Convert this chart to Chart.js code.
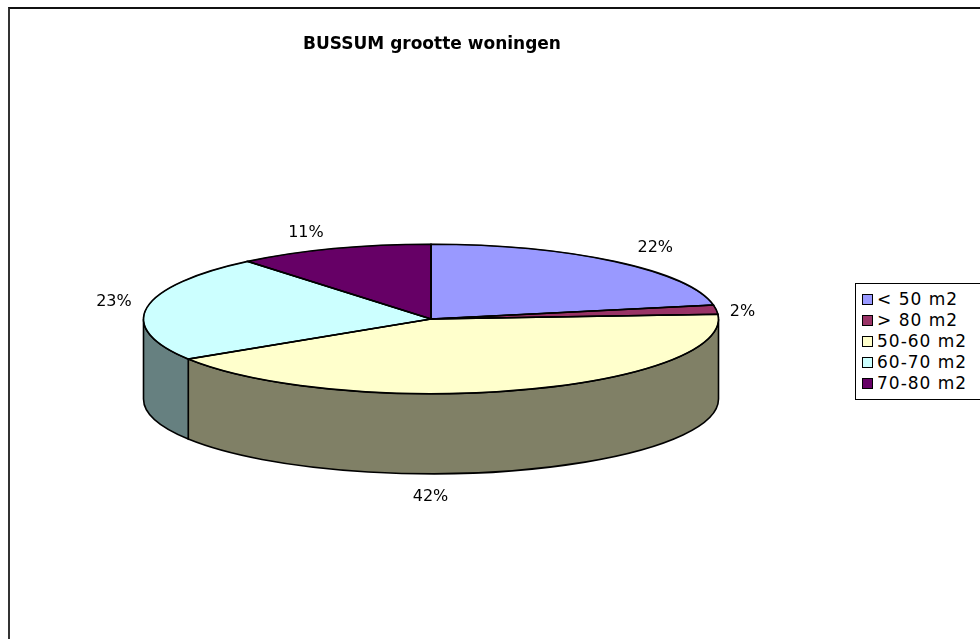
<!DOCTYPE html>
<html>
<head>
<meta charset="utf-8">
<script src="https://cdn.jsdelivr.net/npm/chart.js@4.4.0/dist/chart.umd.min.js"></script>
<style>
    html, body { margin: 0; padding: 0; background: #fff; }
    body { width: 980px; height: 639px; position: relative; overflow: hidden; font-family: "DejaVu Sans", Verdana, sans-serif; }
    #frame { position: absolute; left: 8px; top: 7px; width: 1000px; height: 700px; border-top: 2px solid #111; border-left: 2px solid #333; }
    #chartTitle { position: absolute; left: 0; width: 864px; top: 33px; text-align: center; font-weight: bold; font-size: 17px; color: #000; }
    #legend { position: absolute; left: 855px; top: 283px; width: 140px; border: 1px solid #000; background: #fff; padding: 5px 0 5px 6px; }
    .item { height: 21px; line-height: 21px; font-size: 17px; letter-spacing: 1px; white-space: nowrap; color: #000; }
    .swatch { display: inline-block; width: 9px; height: 9px; border: 1px solid #000; margin-right: 4px; vertical-align: 0px; }
    canvas { position: absolute; left: 0; top: 0; }
</style>
</head>
<body>
<div id="frame"></div>
<canvas id="pieChart" width="980" height="639"></canvas>
<div id="chartTitle">BUSSUM grootte woningen</div>
<div id="legend"></div>

<script>
// Data
const categories = ['< 50 m2', '> 80 m2', '50-60 m2', '60-70 m2', '70-80 m2'];
const shares = [22, 2, 42, 23, 11];
const percentLabels = ['22%', '2%', '42%', '23%', '11%'];

// Colours (top face and darker side wall)
const topColors = ['#9999FF', '#993366', '#FFFFCC', '#CCFFFF', '#660066'];
const sideColors = ['#4D4D80', '#4D1A33', '#808066', '#668080', '#330033'];

// 3D look
const tilt = 0.26;
const depth = 80;
const labelReach = 1.12;
const labelNudge = [[19, -7], [-8, 3], [-100, 18], [1, -4], [-16, -7]];

// Fake 3D pie: sides first, then squash the top face
const pie3d = {
    id: 'pie3d',
    beforeDatasetsDraw(chart) {
        const ctx = chart.ctx;
        const arcs = chart.getDatasetMeta(0).data;
        const { x, y, outerRadius: r } = arcs[0];
        const ry = r * tilt;

        ctx.save();
        ctx.lineWidth = 1.6;
        ctx.strokeStyle = '#000';
        arcs.forEach((arc, i) => {
            const s = Math.max(arc.startAngle, 0);
            const e = Math.min(arc.endAngle, Math.PI);
            if (s >= e) return;
            ctx.beginPath();
            ctx.ellipse(x, y, r, ry, 0, s, e);
            ctx.ellipse(x, y + depth, r, ry, 0, e, s, true);
            ctx.closePath();
            ctx.fillStyle = sideColors[i];
            ctx.fill();
            ctx.stroke();
        });
        ctx.restore();

        ctx.save();
        ctx.translate(x, y);
        ctx.scale(1, tilt);
        ctx.translate(-x, -y);
    },
    afterDatasetsDraw(chart) {
        const ctx = chart.ctx;
        ctx.restore();

        const arcs = chart.getDatasetMeta(0).data;
        const { x, y, outerRadius: r } = arcs[0];
        const ry = r * tilt;

        // crisp outlines on the top face
        ctx.save();
        ctx.lineWidth = 1.6;
        ctx.strokeStyle = '#000';
        arcs.forEach(arc => {
            ctx.beginPath();
            ctx.moveTo(x, y);
            ctx.ellipse(x, y, r, ry, 0, arc.startAngle, arc.endAngle);
            ctx.closePath();
            ctx.stroke();
        });

        // percent labels
        ctx.fillStyle = '#000';
        ctx.font = '16px "DejaVu Sans"';
        ctx.textAlign = 'center';
        ctx.textBaseline = 'middle';
        arcs.forEach((arc, i) => {
            const m = (arc.startAngle + arc.endAngle) / 2;
            const sin = Math.sin(m);
            const px = x + r * labelReach * Math.cos(m) + labelNudge[i][0];
            const py = y + ry * labelReach * sin + (sin > 0 ? depth : 0) + labelNudge[i][1];
            ctx.fillText(percentLabels[i], px, py);
        });
        ctx.restore();
    }
};

// Legend
const legendEl = document.getElementById('legend');
legendEl.innerHTML = categories.map((c, i) => `
    <div class="item"><span class="swatch" style="background:${topColors[i]}"></span>${c.replace(/ /g, '&nbsp;')}</div>
`).join('');

new Chart(document.getElementById('pieChart'), {
    type: 'pie',
    data: {
        labels: categories,
        datasets: [{
            data: shares,
            backgroundColor: topColors,
            borderColor: '#000',
            borderWidth: 1
        }]
    },
    options: {
        responsive: false,
        animation: false,
        events: [],
        layout: { padding: { left: 143, right: 261, top: 31, bottom: 32 } },
        plugins: {
            legend: { display: false },
            tooltip: { enabled: false },
            title: { display: false }
        }
    },
    plugins: [pie3d]
});
</script>
</body>
</html>
